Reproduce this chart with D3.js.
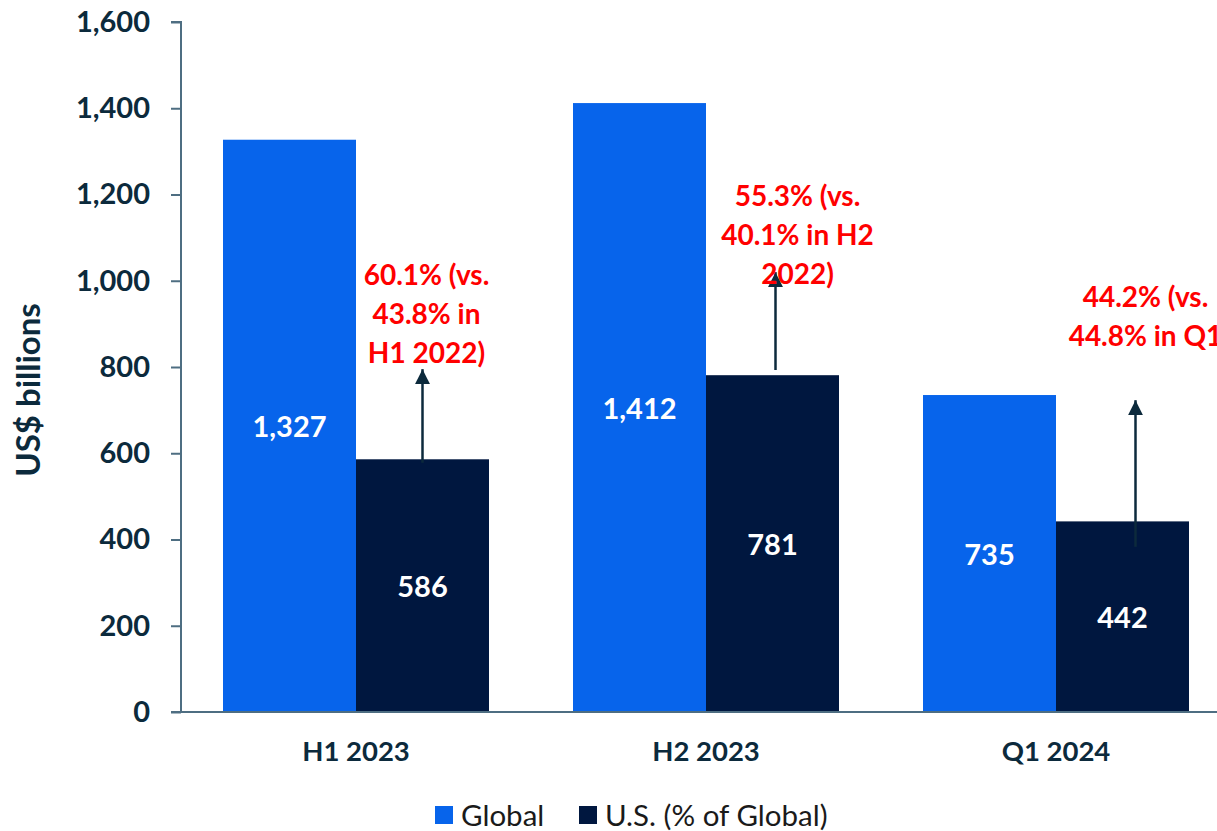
<!DOCTYPE html>
<html><head><meta charset="utf-8">
<script src="https://cdn.jsdelivr.net/npm/d3@7"></script>
<style>body{margin:0;background:#fff;overflow:hidden}</style>
</head><body>
<svg id="c" width="1217" height="831"></svg>
<script>
const categories = ["H1 2023", "H2 2023", "Q1 2024"];
const globalValues = [1327, 1412, 735];
const usValues = [586, 781, 442];
const yTicks = [0, 200, 400, 600, 800, 1000, 1200, 1400, 1600];
const annotations = [
  ["60.1% (vs.", "43.8% in", "H1 2022)"],
  ["55.3% (vs.", "40.1% in H2", "2022)"],
  ["44.2% (vs.", "44.8% in Q1"]
];
const annotationTop = [990, 1173, 939];   // value level of first text line baseline
const annotationShift = [4, 25, 23];
const arrowFrom = [578, 793, 383];
const arrowTo = [795, 1020, 723];
const arrowShift = [0, 3, 13];
const seriesNames = ["Global", "U.S. (% of Global)"];
const colors = ["#0764EB", "#00173F"];

const FONT = "Lato, 'Open Sans', sans-serif";
const dark = "#0C2A3C";
const axisColor = "#4E6E82";
const svg = d3.select("#c");
const x = d3.scaleBand().domain(categories).range([181, 1231]).paddingInner(0.24).paddingOuter(0.12);
const sub = d3.scaleBand().domain([0, 1]).range([0, x.bandwidth()]);
const y = d3.scaleLinear().domain([0, 1600]).range([712, 22]);

// axes
const yAxis = svg.append("g").attr("transform", "translate(181,0)")
  .call(d3.axisLeft(y).tickValues(yTicks).tickSize(10).tickPadding(21).tickFormat(d3.format(",")));
yAxis.select(".domain").attr("stroke", axisColor).attr("stroke-width", 2).attr("d", "M-10,22H0V712");
yAxis.selectAll(".tick line").attr("stroke", axisColor).attr("stroke-width", 2);
yAxis.selectAll(".tick text").attr("fill", dark).attr("font-family", FONT).attr("font-weight", "bold").attr("font-size", 29);

const xAxis = svg.append("g").attr("transform", "translate(0,712)")
  .call(d3.axisBottom(x).tickSize(0).tickPadding(29));
xAxis.select(".domain").attr("stroke", axisColor).attr("stroke-width", 2).attr("d", "M171,0H1231");
xAxis.selectAll(".tick text").attr("fill", dark).attr("font-family", FONT).attr("font-weight", "bold").attr("font-size", 27.5);

// bars
const series = [globalValues, usValues];
series.forEach((vals, si) => {
  const g = svg.append("g");
  g.selectAll("rect").data(vals).join("rect")
    .attr("x", (d, i) => x(categories[i]) + sub(si))
    .attr("width", sub.bandwidth())
    .attr("y", d => y(d))
    .attr("height", d => y(0) - y(d))
    .attr("fill", colors[si]);
  g.selectAll("text").data(vals).join("text")
    .attr("x", (d, i) => x(categories[i]) + sub(si) + sub.bandwidth() / 2)
    .attr("y", d => (y(d) + y(0)) / 2)
    .attr("dy", "0.38em")
    .attr("text-anchor", "middle")
    .attr("fill", "#fff").attr("font-family", FONT).attr("font-weight", "bold").attr("font-size", 29)
    .text(d => d3.format(",")(d));
});

// redraw x axis line over bars
svg.append("line").attr("x1", 171).attr("x2", 1231).attr("y1", 712).attr("y2", 712).attr("stroke", axisColor).attr("stroke-width", 2);

// arrows
const defs = svg.append("defs");
defs.append("marker").attr("id", "ah").attr("viewBox", "0 0 10 10").attr("refX", 10).attr("refY", 5)
  .attr("markerWidth", 6).attr("markerHeight", 6).attr("orient", "auto").attr("markerUnits", "strokeWidth")
  .append("path").attr("d", "M0,0L10,5L0,10Z").attr("fill", "#0C2A3C");
categories.forEach((c, i) => {
  const cx = x(c) + sub(1) + sub.bandwidth() / 2;
  const ax = cx + arrowShift[i];
  svg.append("line").attr("x1", ax).attr("x2", ax).attr("y1", y(arrowFrom[i])).attr("y2", y(arrowTo[i]))
    .attr("stroke", "#0C2A3C").attr("stroke-width", 2.5).attr("marker-end", "url(#ah)");
  const tx = cx + annotationShift[i];
  const t = svg.append("text").attr("text-anchor", "middle").attr("fill", "#FF0000")
    .attr("font-family", FONT).attr("font-weight", "bold").attr("font-size", 28);
  annotations[i].forEach((line, li) => {
    t.append("tspan").attr("x", tx).attr("y", y(annotationTop[i]) + li * 39).text(line);
  });
});

// legend
const leg = svg.append("g").attr("font-family", FONT).attr("font-size", 29.5).attr("fill", "#1A1A1A");
const legX = [435, 579];
seriesNames.forEach((n, i) => {
  leg.append("rect").attr("x", legX[i]).attr("y", 806).attr("width", 18).attr("height", 18).attr("fill", colors[i]);
  leg.append("text").attr("x", legX[i] + 26).attr("y", 826).text(n);
});
// y title
svg.append("text").attr("transform", "translate(40,390) rotate(-90)").attr("text-anchor", "middle")
  .attr("fill", dark).attr("font-family", FONT).attr("font-weight", "bold").attr("font-size", 33).text("US$ billions");
</script>
</body></html>
